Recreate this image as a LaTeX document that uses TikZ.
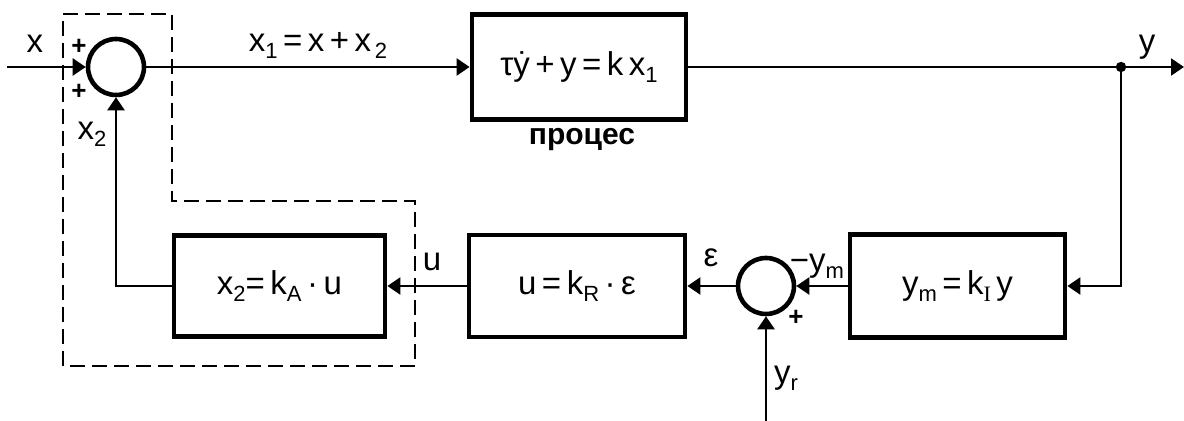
\documentclass[tikz,border=0pt]{standalone}
\usepackage{fontspec}
\setmainfont{Liberation Sans}
\newfontfamily\seriffont{Liberation Serif}
\usetikzlibrary{arrows.meta}
\newcommand\sbs[1]{\raisebox{-0.4ex}{\fontsize{11}{12}\selectfont #1}}
\begin{document}
\begin{tikzpicture}[x=0.5pt,y=-0.5pt,
  blk/.style={draw, line width=2.4pt, inner sep=0pt, font=\fontsize{16.5}{19}\selectfont},
  sumj/.style={draw, circle, line width=2.3pt, minimum size=28pt, inner sep=0pt},
  conn/.style={line width=1.2pt},
  arr/.style={conn, -{Triangle[length=6.5pt,width=8.5pt]}},
  lbl/.style={font=\fontsize{16.5}{19}\selectfont, inner sep=0pt},
  pm/.style={font=\bfseries\fontsize{13}{15}\selectfont, inner sep=0pt},
  frame/.style={line width=1.1pt, dash pattern=on 7.5pt off 3.5pt}
]
\useasboundingbox (0,0) rectangle (1184,421);
% dashed frame
\draw[frame] (63,14) -- (172,14) -- (172,201) -- (415,201) -- (415,366) -- (63,366) -- cycle;
% nodes
\node[sumj] (s1) at (116,67) {};
\node[blk, minimum width=107pt, minimum height=52.5pt] (proc) at (579,67) {τ\.{y}\,+\,y\,=\,k\,x\sbs{1}};
\node[blk, minimum width=105.5pt, minimum height=50.5pt] (x2b) at (279.5,286) {x\sbs{2}=\,k\sbs{A}\,·\,u};
\node[blk, minimum width=108pt, minimum height=51pt] (ub) at (577,286) {u\,=\,k\sbs{R}\,·\,ε};
\node[sumj] (s2) at (766,286) {};
\node[blk, minimum width=107.5pt, minimum height=51.5pt] (ymb) at (957.5,286) {y\sbs{m}\,=\,k\sbs{\seriffont I}\,y};
\coordinate (in) at (7,67);
\coordinate (dot) at (1121,67);
\coordinate (out) at (1184,67);
\coordinate (yr) at (766,421);
% connectors
\draw[arr] (in) -- (s1.west);
\draw[arr] (s1) -- (proc);
\draw[conn] (proc.east) -- (dot);
\draw[arr] (dot) -- (out);
\fill (dot) circle (2.6pt);
\draw[arr] (dot) |- (ymb.east);
\draw[arr] (ymb) -- (s2);
\draw[arr] (s2) -- (ub);
\draw[arr] (ub) -- (x2b);
\draw[arr] (x2b.west) -| (s1.south);
\draw[arr] (yr) -- (s2.south);
% labels
\node[lbl] (lx) at (35,44) {x};
\node[pm] (p1) at (79,47) {+};
\node[pm] (p2) at (79,92) {+};
\node[lbl] (lx2) at (92,134) {x\sbs{2}};
\node[lbl] (lx1) at (318,45) {x\sbs{1}\,=\,x\,+\,x\sbs{\,2}};
\node[font=\bfseries\fontsize{15}{18}\selectfont, inner sep=0pt] (lproc) at (582,140) {процес};
\node[lbl] (ly) at (1147,47) {y};
\node[lbl] (lu) at (432,262) {u};
\node[lbl] (leps) at (711,258) {ε};
\node[lbl] (lym) at (817,266) {−y\sbs{m}};
\node[pm] (p3) at (796,318) {+};
\node[lbl] (lyr) at (786,378) {y\sbs{r}};
\end{tikzpicture}
\end{document}
